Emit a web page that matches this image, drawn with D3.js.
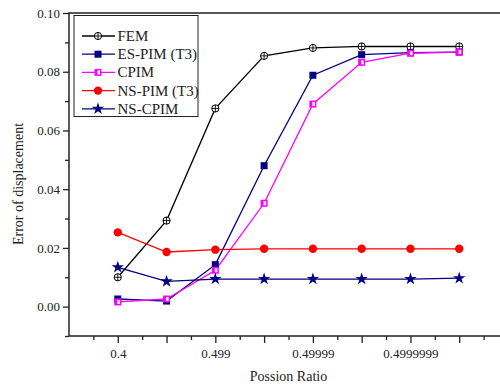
<!DOCTYPE html>
<html>
<head>
<meta charset="utf-8">
<script src="https://cdn.jsdelivr.net/npm/d3@7"></script>
<style>
  body { margin: 0; background: #fff; }
  svg { display: block; font-family: "Liberation Serif", "Times New Roman", serif; }
</style>
</head>
<body>
<div class="chart"></div>
<script>
const ratios = ["0.4", "0.49", "0.499", "0.4999", "0.49999", "0.499999", "0.4999999", "0.49999999"];
const labelledTicks = [0, 2, 4, 6];

const fem = [0.0100, 0.0293, 0.0675, 0.0854, 0.0881, 0.0886, 0.0886, 0.0886];
const esPim = [0.0026, 0.0019, 0.0143, 0.0480, 0.0788, 0.0858, 0.0865, 0.0867];
const cpim = [0.0016, 0.0026, 0.0124, 0.0352, 0.0690, 0.0832, 0.0863, 0.0867];
const nsPim = [0.0253, 0.0186, 0.0194, 0.0197, 0.0197, 0.0197, 0.0197, 0.0197];
const nsCpim = [0.0134, 0.0086, 0.0094, 0.0094, 0.0094, 0.0094, 0.0094, 0.0097];

const series = [
  { name: "FEM", values: fem, color: "#000000", marker: "fem" },
  { name: "ES-PIM (T3)", values: esPim, color: "#000080", marker: "square" },
  { name: "CPIM", values: cpim, color: "#ff00ff", marker: "half" },
  { name: "NS-PIM (T3)", values: nsPim, color: "#ff0000", marker: "circle" },
  { name: "NS-CPIM", values: nsCpim, color: "#000080", marker: "star" },
];

const width = 500;
const height = 387;
const plot = { left: 69, right: 508, top: 13, bottom: 336 };

const x = d3.scaleLinear().domain([-1, 8]).range([plot.left, plot.right]);
const y = d3.scaleLinear().domain([-0.01, 0.1]).range([plot.bottom, plot.top]);

const svg = d3
  .select(".chart")
  .append("svg")
  .attr("width", width)
  .attr("height", height)
  .style("overflow", "hidden");

function drawMarker(g, type, color) {
  switch (type) {
    case "fem":
      g.append("circle").attr("r", 3.6).attr("fill", "#fff").attr("stroke", "#000").attr("stroke-width", 1);
      g.append("path").attr("d", "M-3.6,0H3.6M0,-3.6V3.6").attr("stroke", "#000").attr("stroke-width", 0.9);
      break;
    case "square":
      g.append("rect").attr("x", -3.5).attr("y", -3.5).attr("width", 7).attr("height", 7).attr("fill", color);
      break;
    case "half":
      g.append("rect").attr("x", -3.5).attr("y", -3.5).attr("width", 7).attr("height", 7).attr("fill", color);
      g.append("rect").attr("x", -0.5).attr("y", -2).attr("width", 2.5).attr("height", 4).attr("fill", "#fff");
      break;
    case "circle":
      g.append("circle").attr("r", 4.2).attr("fill", color);
      break;
    case "star":
      g.append("path").attr("d", d3.symbol(d3.symbolStar, 48)()).attr("fill", color);
      break;
  }
}

// axes
const axisColor = "#222";

const yMajor = d3.range(0, 0.1001, 0.02);
const yMinor = d3.range(-0.01, 0.1001, 0.01).filter((v) => !yMajor.some((m) => Math.abs(m - v) < 1e-9));

svg.append("g")
  .attr("transform", `translate(${plot.left},0)`)
  .call(d3.axisLeft(y).tickValues(yMinor).tickSize(4).tickFormat(""))
  .call((g) => g.select(".domain").remove())
  .call((g) => g.selectAll("line").attr("stroke", axisColor).attr("stroke-width", 1.3));

svg.append("g")
  .attr("transform", `translate(${plot.left},0)`)
  .call(d3.axisLeft(y).tickValues(yMajor).tickSize(6).tickPadding(3).tickFormat(d3.format(".2f")))
  .call((g) => g.select(".domain").remove())
  .call((g) => g.selectAll("line").attr("stroke", axisColor).attr("stroke-width", 1.3))
  .call((g) => g.selectAll("text").attr("font-size", 13).attr("fill", "#222").attr("font-family", "Liberation Serif"));

const xMajor = d3.range(0, 9);
const xMinor = d3.range(-0.5, 8, 1);

svg.append("g")
  .attr("transform", `translate(0,${plot.bottom})`)
  .call(d3.axisBottom(x).tickValues(xMinor).tickSize(4).tickFormat(""))
  .call((g) => g.select(".domain").remove())
  .call((g) => g.selectAll("line").attr("stroke", axisColor).attr("stroke-width", 1.3));

svg.append("g")
  .attr("transform", `translate(0,${plot.bottom})`)
  .call(
    d3.axisBottom(x)
      .tickValues(xMajor)
      .tickSize(7)
      .tickPadding(6)
      .tickFormat((d) => (labelledTicks.includes(d) ? ratios[d] : ""))
  )
  .call((g) => g.select(".domain").remove())
  .call((g) => g.selectAll("line").attr("stroke", axisColor).attr("stroke-width", 1.3))
  .call((g) => g.selectAll("text").attr("font-size", 13).attr("fill", "#222").attr("font-family", "Liberation Serif"));

// frame
svg.append("rect")
  .attr("x", plot.left)
  .attr("y", plot.top)
  .attr("width", plot.right - plot.left)
  .attr("height", plot.bottom - plot.top)
  .attr("fill", "none")
  .attr("stroke", axisColor)
  .attr("stroke-width", 1.5);

// axis titles
svg.append("text")
  .attr("x", (plot.left + plot.right) / 2)
  .attr("y", 381)
  .attr("text-anchor", "middle")
  .attr("font-size", 14)
  .attr("fill", "#222")
  .text("Possion Ratio");

svg.append("text")
  .attr("transform", `translate(23,184) rotate(-90)`)
  .attr("text-anchor", "middle")
  .attr("font-size", 14)
  .attr("fill", "#222")
  .text("Error of displacement");

// lines and markers
const line = d3.line().x((d, i) => x(i)).y((d) => y(d));

series.forEach((s) => {
  svg.append("path")
    .datum(s.values)
    .attr("d", line)
    .attr("fill", "none")
    .attr("stroke", s.color)
    .attr("stroke-width", 1.3);
});

series.forEach((s) => {
  s.values.forEach((v, i) => {
    const g = svg.append("g").attr("transform", `translate(${x(i)},${y(v)})`);
    drawMarker(g, s.marker, s.color);
  });
});

// legend
const legend = svg.append("g");
legend.append("rect")
  .attr("x", 74)
  .attr("y", 15.5)
  .attr("width", 124)
  .attr("height", 101)
  .attr("fill", "#fff")
  .attr("stroke", "#222")
  .attr("stroke-width", 1);

series.forEach((s, i) => {
  const ly = 36 + i * 18.2;
  const row = legend.append("g");
  row.append("line")
    .attr("x1", 82).attr("x2", 115)
    .attr("y1", ly).attr("y2", ly)
    .attr("stroke", s.color)
    .attr("stroke-width", 1.3);
  drawMarker(row.append("g").attr("transform", `translate(98,${ly})`), s.marker, s.color);
  row.append("text")
    .attr("x", 117.5)
    .attr("y", ly + 5)
    .attr("font-size", 15)
    .attr("fill", "#222")
    .text(s.name);
});
</script>
</body>
</html>
